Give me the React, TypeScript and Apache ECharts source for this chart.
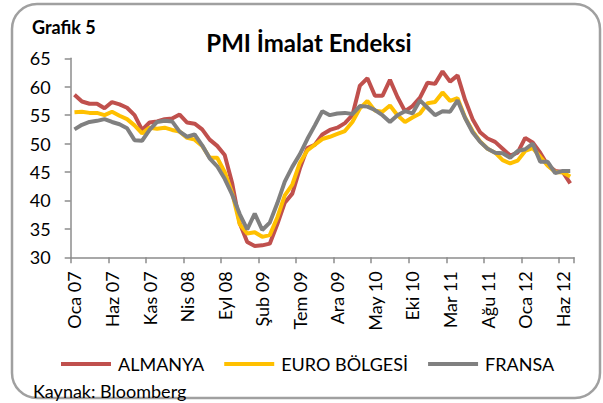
import React, { useEffect, useRef } from "react";
import * as echarts from "echarts";

const monthNames = ["Oca", "Şub", "Mar", "Nis", "May", "Haz", "Tem", "Ağu", "Eyl", "Eki", "Kas", "Ara"];
const years = ["07", "08", "09", "10", "11", "12"];
const categories: string[] = [];
years.forEach((y) => monthNames.forEach((m) => categories.push(`${m} ${y}`)));
const xCategories = categories.slice(0, 67); // Oca 07 .. Tem 12

const almanya = [
  58.6, 57.4, 57.0, 57.0, 56.2, 57.3, 56.9, 56.3, 55.0, 52.4, 53.7, 53.9,
  54.3, 54.4, 55.1, 53.7, 53.5, 52.5, 50.7, 49.6, 48.0, 43.0, 36.0, 32.7,
  32.0, 32.1, 32.4, 35.8, 39.6, 41.2, 45.6, 49.2, 49.8, 51.6, 52.4, 52.8,
  53.6, 55.0, 60.2, 61.5, 58.4, 58.4, 61.2, 58.2, 55.7, 56.6, 58.1, 60.7,
  60.5, 62.7, 60.9, 62.0, 57.7, 54.3, 52.0, 50.9, 50.3, 49.1, 47.9, 48.4,
  51.0, 50.2, 48.4, 46.2, 45.2, 45.0, 43.0,
];

const euroBolgesi = [
  55.5, 55.6, 55.4, 55.4, 55.0, 55.6, 54.9, 54.3, 53.2, 51.8, 52.8, 52.6,
  52.8, 52.4, 52.1, 51.0, 50.7, 49.6, 47.5, 47.5, 45.0, 41.3, 35.8, 34.2,
  34.4, 33.6, 33.9, 37.0, 40.9, 42.8, 46.6, 48.8, 49.8, 50.8, 51.2, 51.7,
  52.2, 53.8, 56.2, 57.5, 55.8, 55.6, 56.7, 55.0, 53.8, 54.6, 55.3, 57.1,
  57.3, 59.0, 57.5, 58.0, 54.6, 52.2, 50.4, 49.1, 48.4, 47.1, 46.5, 47.0,
  48.7, 49.2, 47.7, 46.1, 45.0, 44.9, 44.2,
];

const fransa = [
  52.5, 53.3, 53.8, 54.0, 54.3, 53.8, 53.4, 52.7, 50.6, 50.5, 52.4, 53.8,
  54.0, 53.9, 52.1, 51.2, 51.6, 49.7, 47.4, 46.0, 43.8, 41.0, 37.6, 34.9,
  37.7, 34.8, 36.1, 39.5, 43.3, 45.9, 48.1, 50.8, 53.2, 55.7, 55.0, 55.3,
  55.4, 55.2, 56.6, 56.5, 55.9, 55.0, 53.8, 55.0, 55.7, 55.3, 57.6, 56.3,
  55.0, 55.7, 55.6, 57.6, 54.5, 52.0, 50.3, 49.1, 48.4, 48.3, 47.5, 48.7,
  49.0, 50.0, 46.8, 46.8, 44.8, 45.2, 45.2,
];

const seriesNames = ["ALMANYA", "EURO BÖLGESİ", "FRANSA"];
const seriesColors = ["#C0504D", "#FFC000", "#808080"];
const seriesData = [almanya, euroBolgesi, fransa];

const FONT = "Lato";

export default function App() {
  const ref = useRef<HTMLDivElement>(null);

  useEffect(() => {
    if (!ref.current) return;
    const chart = echarts.init(ref.current, undefined, { renderer: "svg" });
    chart.setOption({
      animation: false,
      backgroundColor: "#ffffff",
      textStyle: { fontFamily: FONT },
      grid: { left: 70.7, right: 29, top: 58.3, bottom: 145.7, containLabel: false },
      legend: {
        data: seriesNames,
        left: 56,
        top: 350,
        icon: "rect",
        itemWidth: 50,
        itemHeight: 4,
        itemGap: 20,
        textStyle: { fontSize: 18, color: "#000", fontFamily: FONT, padding: [0, 0, 0, 2] },
      },
      xAxis: {
        type: "category",
        data: xCategories,
        boundaryGap: true,
        axisLine: { show: true, lineStyle: { color: "#8c8c8c", width: 1.5 } },
        axisTick: { show: true, interval: 4, length: 6, lineStyle: { color: "#8c8c8c", width: 1.5 } },
        axisLabel: { interval: 4, rotate: 90, fontSize: 18, color: "#000", margin: 14, fontFamily: FONT },
        splitLine: { show: false },
      },
      yAxis: {
        type: "value",
        min: 30,
        max: 65,
        interval: 5,
        axisLine: { show: true, lineStyle: { color: "#8c8c8c", width: 1.5 } },
        axisTick: { show: true, length: 6, lineStyle: { color: "#8c8c8c", width: 1.5 } },
        axisLabel: { fontSize: 18, color: "#000", margin: 20, fontFamily: FONT },
        splitLine: { show: false },
      },
      series: seriesNames.map((name, i) => ({
        name,
        type: "line",
        data: seriesData[i],
        symbol: "none",
        color: seriesColors[i],
        lineStyle: { width: 4, color: seriesColors[i] },
      })),
      graphic: [
        {
          type: "rect",
          x: 12,
          y: 4,
          shape: { x: 0, y: 0, width: 588, height: 394, r: 25 },
          style: { fill: "#ffffff", fillOpacity: 0, stroke: "#a0a0a0", lineWidth: 2.5, opacity: 1 },
          silent: true,
          z: 0,
          zlevel: 0,
        },
        {
          type: "text",
          left: 32,
          top: 18,
          style: {
            text: "Grafik 5",
            fontFamily: FONT,
            fontSize: 18,
            fontWeight: "bold",
            fill: "#000",
          },
        },
        {
          type: "text",
          x: 309,
          y: 42,
          style: {
            text: "PMI İmalat Endeksi",
            fontFamily: FONT,
            fontSize: 24,
            fontWeight: "bold",
            fill: "#000",
            textAlign: "center",
            textVerticalAlign: "middle",
          },
        },
        {
          type: "text",
          x: 33,
          y: 391,
          style: {
            text: "Kaynak: Bloomberg",
            fontFamily: FONT,
            fontSize: 18,
            fill: "#000",
            textVerticalAlign: "middle",
          },
        },
      ],
    });
    return () => chart.dispose();
  }, []);

  return (
    <div style={{ position: "fixed", left: 0, top: 0, width: 603, height: 403, background: "#fff" }}>
      <div ref={ref} style={{ position: "absolute", left: 0, top: 0, width: 603, height: 403 }} />
    </div>
  );
}
